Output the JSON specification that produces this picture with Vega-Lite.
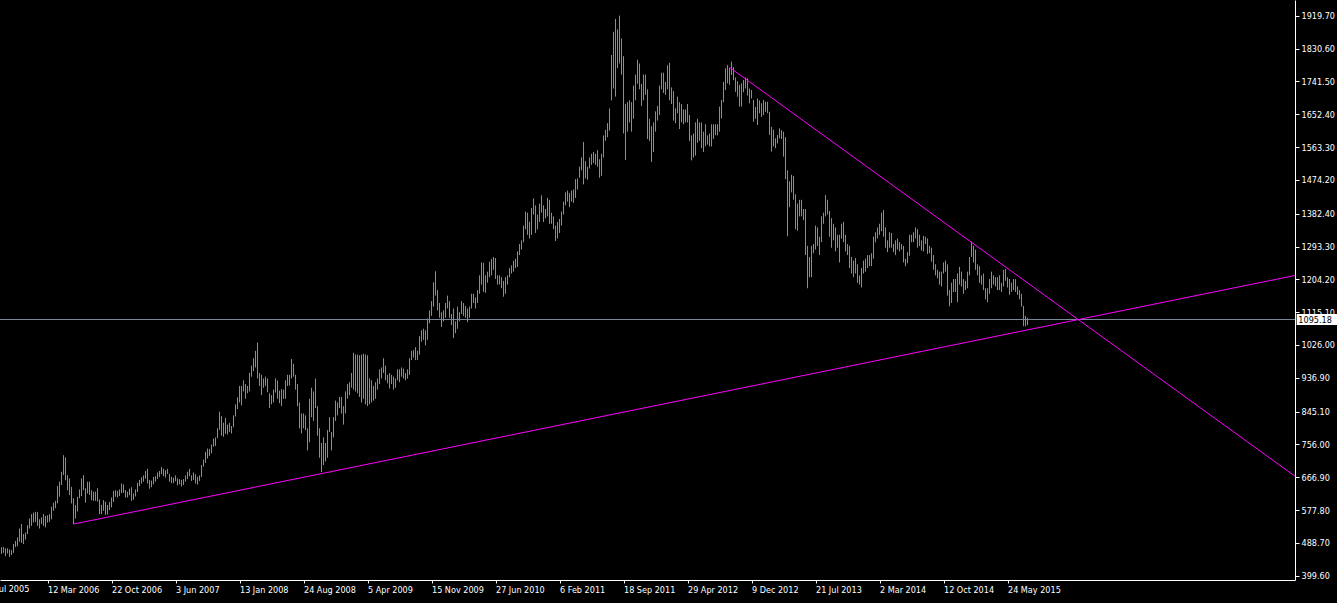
{
"$schema": "https://vega.github.io/schema/vega-lite/v6.json",
"width": 1295,
"height": 580,
"autosize": {"type": "none"},
"padding": {"left": 0, "top": 0, "right": 42, "bottom": 23},
"background": "#000000",
"config": {
  "view": {"stroke": null},
  "axis": {"grid": false, "labelOverlap": false, "labelFont": "DejaVu Sans Condensed, Liberation Sans", "labelFontSize": 9, "labelColor": "#ffffff", "domainColor": "#ffffff", "tickColor": "#ffffff", "domainWidth": 1, "tickWidth": 1}
},
"datasets": {
"bars": [
{"d":"2005-10-02","h":477,"l":459},{"d":"2005-10-09","h":478,"l":462},{"d":"2005-10-16","h":474,"l":453},{"d":"2005-10-23","h":474,"l":460},{"d":"2005-10-30","h":471,"l":451},{"d":"2005-11-06","h":469,"l":456},{"d":"2005-11-13","h":486,"l":462},{"d":"2005-11-20","h":494,"l":478},{"d":"2005-11-27","h":504,"l":480},{"d":"2005-12-04","h":528,"l":492},{"d":"2005-12-11","h":540,"l":489},{"d":"2005-12-18","h":513,"l":486},{"d":"2005-12-25","h":517,"l":498},
{"d":"2006-01-01","h":537,"l":513},{"d":"2006-01-08","h":555,"l":528},{"d":"2006-01-15","h":567,"l":535},{"d":"2006-01-22","h":571,"l":544},{"d":"2006-01-29","h":573,"l":546},{"d":"2006-02-05","h":573,"l":535},{"d":"2006-02-12","h":553,"l":528},{"d":"2006-02-19","h":558,"l":540},{"d":"2006-02-26","h":567,"l":535},{"d":"2006-03-05","h":562,"l":531},{"d":"2006-03-12","h":564,"l":544},{"d":"2006-03-19","h":567,"l":546},{"d":"2006-03-26","h":587,"l":553},{"d":"2006-04-02","h":598,"l":576},{"d":"2006-04-09","h":603,"l":583},{"d":"2006-04-16","h":643,"l":596},{"d":"2006-04-23","h":655,"l":614},{"d":"2006-04-30","h":682,"l":646},{"d":"2006-05-07","h":727,"l":673},{"d":"2006-05-14","h":721,"l":659},{"d":"2006-05-21","h":673,"l":632},{"d":"2006-05-28","h":664,"l":619},{"d":"2006-06-04","h":641,"l":596},{"d":"2006-06-11","h":610,"l":540},{"d":"2006-06-18","h":592,"l":555},{"d":"2006-06-25","h":614,"l":574},{"d":"2006-07-02","h":634,"l":610},{"d":"2006-07-09","h":664,"l":616},{"d":"2006-07-16","h":673,"l":632},{"d":"2006-07-23","h":637,"l":598},{"d":"2006-07-30","h":655,"l":623},{"d":"2006-08-06","h":655,"l":619},{"d":"2006-08-13","h":632,"l":605},{"d":"2006-08-20","h":628,"l":603},{"d":"2006-08-27","h":628,"l":603},{"d":"2006-09-03","h":637,"l":601},{"d":"2006-09-10","h":607,"l":567},{"d":"2006-09-17","h":592,"l":567},{"d":"2006-09-24","h":605,"l":576},{"d":"2006-10-01","h":601,"l":565},{"d":"2006-10-08","h":592,"l":566},{"d":"2006-10-15","h":600,"l":578},{"d":"2006-10-22","h":612,"l":585},{"d":"2006-10-29","h":630,"l":600},{"d":"2006-11-05","h":632,"l":614},{"d":"2006-11-12","h":630,"l":612},{"d":"2006-11-19","h":634,"l":616},{"d":"2006-11-26","h":650,"l":624},{"d":"2006-12-03","h":648,"l":625},{"d":"2006-12-10","h":632,"l":612},{"d":"2006-12-17","h":628,"l":612},{"d":"2006-12-24","h":636,"l":618},{"d":"2006-12-31","h":640,"l":603},
{"d":"2007-01-07","h":623,"l":606},{"d":"2007-01-14","h":634,"l":615},{"d":"2007-01-21","h":652,"l":627},{"d":"2007-01-28","h":660,"l":643},{"d":"2007-02-04","h":667,"l":650},{"d":"2007-02-11","h":672,"l":655},{"d":"2007-02-18","h":684,"l":663},{"d":"2007-02-25","h":690,"l":650},{"d":"2007-03-04","h":660,"l":636},{"d":"2007-03-11","h":658,"l":640},{"d":"2007-03-18","h":668,"l":648},{"d":"2007-03-25","h":670,"l":655},{"d":"2007-04-01","h":680,"l":662},{"d":"2007-04-08","h":684,"l":668},{"d":"2007-04-15","h":695,"l":675},{"d":"2007-04-22","h":690,"l":670},{"d":"2007-04-29","h":686,"l":666},{"d":"2007-05-06","h":690,"l":676},{"d":"2007-05-13","h":676,"l":655},{"d":"2007-05-20","h":668,"l":651},{"d":"2007-05-27","h":666,"l":651},{"d":"2007-06-03","h":672,"l":656},{"d":"2007-06-10","h":664,"l":645},{"d":"2007-06-17","h":662,"l":648},{"d":"2007-06-24","h":660,"l":642},{"d":"2007-07-01","h":662,"l":646},{"d":"2007-07-08","h":672,"l":655},{"d":"2007-07-15","h":682,"l":662},{"d":"2007-07-22","h":690,"l":670},{"d":"2007-07-29","h":672,"l":657},{"d":"2007-08-05","h":680,"l":660},{"d":"2007-08-12","h":675,"l":650},{"d":"2007-08-19","h":668,"l":647},{"d":"2007-08-26","h":672,"l":657},{"d":"2007-09-02","h":700,"l":668},{"d":"2007-09-09","h":715,"l":696},{"d":"2007-09-16","h":736,"l":706},{"d":"2007-09-23","h":745,"l":718},{"d":"2007-09-30","h":744,"l":725},{"d":"2007-10-07","h":756,"l":732},{"d":"2007-10-14","h":772,"l":750},{"d":"2007-10-21","h":775,"l":752},{"d":"2007-10-28","h":800,"l":773},{"d":"2007-11-04","h":845,"l":796},{"d":"2007-11-11","h":833,"l":780},{"d":"2007-11-18","h":815,"l":777},{"d":"2007-11-25","h":828,"l":785},{"d":"2007-12-02","h":810,"l":783},{"d":"2007-12-09","h":815,"l":790},{"d":"2007-12-16","h":806,"l":786},{"d":"2007-12-23","h":835,"l":803},{"d":"2007-12-30","h":865,"l":832},
{"d":"2008-01-06","h":884,"l":852},{"d":"2008-01-13","h":915,"l":870},{"d":"2008-01-20","h":915,"l":862},{"d":"2008-01-27","h":930,"l":900},{"d":"2008-02-03","h":920,"l":880},{"d":"2008-02-10","h":915,"l":895},{"d":"2008-02-17","h":950,"l":900},{"d":"2008-02-24","h":970,"l":940},{"d":"2008-03-02","h":990,"l":955},{"d":"2008-03-09","h":1010,"l":965},{"d":"2008-03-16","h":1033,"l":935},{"d":"2008-03-23","h":950,"l":915},{"d":"2008-03-30","h":945,"l":890},{"d":"2008-04-06","h":935,"l":910},{"d":"2008-04-13","h":940,"l":915},{"d":"2008-04-20","h":935,"l":898},{"d":"2008-04-27","h":895,"l":855},{"d":"2008-05-04","h":890,"l":865},{"d":"2008-05-11","h":905,"l":870},{"d":"2008-05-18","h":935,"l":897},{"d":"2008-05-25","h":930,"l":880},{"d":"2008-06-01","h":902,"l":868},{"d":"2008-06-08","h":906,"l":860},{"d":"2008-06-15","h":905,"l":880},{"d":"2008-06-22","h":930,"l":880},{"d":"2008-06-29","h":945,"l":915},{"d":"2008-07-06","h":945,"l":916},{"d":"2008-07-13","h":988,"l":935},{"d":"2008-07-20","h":975,"l":940},{"d":"2008-07-27","h":945,"l":905},{"d":"2008-08-03","h":920,"l":860},{"d":"2008-08-10","h":870,"l":800},{"d":"2008-08-17","h":840,"l":786},{"d":"2008-08-24","h":840,"l":800},{"d":"2008-08-31","h":835,"l":795},{"d":"2008-09-07","h":800,"l":740},{"d":"2008-09-14","h":880,"l":762},{"d":"2008-09-21","h":910,"l":830},{"d":"2008-09-28","h":900,"l":820},{"d":"2008-10-05","h":935,"l":855},{"d":"2008-10-12","h":860,"l":780},{"d":"2008-10-19","h":800,"l":720},{"d":"2008-10-26","h":760,"l":681},{"d":"2008-11-02","h":775,"l":700},{"d":"2008-11-09","h":760,"l":710},{"d":"2008-11-16","h":795,"l":720},{"d":"2008-11-23","h":830,"l":790},{"d":"2008-11-30","h":790,"l":740},{"d":"2008-12-07","h":830,"l":775},{"d":"2008-12-14","h":875,"l":820},{"d":"2008-12-21","h":870,"l":835},{"d":"2008-12-28","h":885,"l":855},
{"d":"2009-01-04","h":885,"l":840},{"d":"2009-01-11","h":860,"l":810},{"d":"2009-01-18","h":900,"l":840},{"d":"2009-01-25","h":920,"l":880},{"d":"2009-02-01","h":925,"l":890},{"d":"2009-02-08","h":950,"l":910},{"d":"2009-02-15","h":1005,"l":905},{"d":"2009-02-22","h":1000,"l":900},{"d":"2009-03-01","h":1000,"l":895},{"d":"2009-03-08","h":998,"l":885},{"d":"2009-03-15","h":1000,"l":870},{"d":"2009-03-22","h":1002,"l":880},{"d":"2009-03-29","h":1000,"l":865},{"d":"2009-04-05","h":998,"l":860},{"d":"2009-04-12","h":935,"l":865},{"d":"2009-04-19","h":930,"l":870},{"d":"2009-04-26","h":915,"l":875},{"d":"2009-05-03","h":925,"l":880},{"d":"2009-05-10","h":935,"l":905},{"d":"2009-05-17","h":960,"l":920},{"d":"2009-05-24","h":965,"l":935},{"d":"2009-05-31","h":990,"l":950},{"d":"2009-06-07","h":970,"l":930},{"d":"2009-06-14","h":945,"l":922},{"d":"2009-06-21","h":950,"l":908},{"d":"2009-06-28","h":945,"l":920},{"d":"2009-07-05","h":940,"l":905},{"d":"2009-07-12","h":935,"l":910},{"d":"2009-07-19","h":960,"l":930},{"d":"2009-07-26","h":960,"l":925},{"d":"2009-08-02","h":965,"l":940},{"d":"2009-08-09","h":962,"l":935},{"d":"2009-08-16","h":950,"l":930},{"d":"2009-08-23","h":960,"l":935},{"d":"2009-08-30","h":990,"l":945},{"d":"2009-09-06","h":1010,"l":985},{"d":"2009-09-13","h":1012,"l":992},{"d":"2009-09-20","h":1020,"l":985},{"d":"2009-09-27","h":1010,"l":985},{"d":"2009-10-04","h":1050,"l":1000},{"d":"2009-10-11","h":1066,"l":1035},{"d":"2009-10-18","h":1070,"l":1040},{"d":"2009-10-25","h":1066,"l":1025},{"d":"2009-11-01","h":1098,"l":1040},{"d":"2009-11-08","h":1120,"l":1085},{"d":"2009-11-15","h":1145,"l":1105},{"d":"2009-11-22","h":1196,"l":1130},{"d":"2009-11-29","h":1226,"l":1160},{"d":"2009-12-06","h":1175,"l":1120},{"d":"2009-12-13","h":1140,"l":1100},{"d":"2009-12-20","h":1115,"l":1075},{"d":"2009-12-27","h":1120,"l":1090},
{"d":"2010-01-03","h":1140,"l":1100},{"d":"2010-01-10","h":1160,"l":1125},{"d":"2010-01-17","h":1145,"l":1100},{"d":"2010-01-24","h":1110,"l":1080},{"d":"2010-01-31","h":1125,"l":1045},{"d":"2010-02-07","h":1090,"l":1058},{"d":"2010-02-14","h":1130,"l":1070},{"d":"2010-02-21","h":1115,"l":1090},{"d":"2010-02-28","h":1145,"l":1110},{"d":"2010-03-07","h":1140,"l":1105},{"d":"2010-03-14","h":1132,"l":1100},{"d":"2010-03-21","h":1125,"l":1088},{"d":"2010-03-28","h":1130,"l":1100},{"d":"2010-04-04","h":1165,"l":1125},{"d":"2010-04-11","h":1165,"l":1140},{"d":"2010-04-18","h":1155,"l":1125},{"d":"2010-04-25","h":1175,"l":1140},{"d":"2010-05-02","h":1215,"l":1165},{"d":"2010-05-09","h":1250,"l":1190},{"d":"2010-05-16","h":1249,"l":1170},{"d":"2010-05-23","h":1215,"l":1168},{"d":"2010-05-30","h":1225,"l":1195},{"d":"2010-06-06","h":1252,"l":1210},{"d":"2010-06-13","h":1260,"l":1215},{"d":"2010-06-20","h":1265,"l":1230},{"d":"2010-06-27","h":1262,"l":1205},{"d":"2010-07-04","h":1215,"l":1190},{"d":"2010-07-11","h":1215,"l":1190},{"d":"2010-07-18","h":1210,"l":1180},{"d":"2010-07-25","h":1200,"l":1157},{"d":"2010-08-01","h":1210,"l":1165},{"d":"2010-08-08","h":1215,"l":1190},{"d":"2010-08-15","h":1235,"l":1210},{"d":"2010-08-22","h":1242,"l":1220},{"d":"2010-08-29","h":1255,"l":1225},{"d":"2010-09-05","h":1260,"l":1235},{"d":"2010-09-12","h":1280,"l":1238},{"d":"2010-09-19","h":1300,"l":1270},{"d":"2010-09-26","h":1310,"l":1285},{"d":"2010-10-03","h":1350,"l":1305},{"d":"2010-10-10","h":1388,"l":1340},{"d":"2010-10-17","h":1385,"l":1325},{"d":"2010-10-24","h":1360,"l":1315},{"d":"2010-10-31","h":1398,"l":1325},{"d":"2010-11-07","h":1424,"l":1380},{"d":"2010-11-14","h":1405,"l":1330},{"d":"2010-11-21","h":1380,"l":1340},{"d":"2010-11-28","h":1410,"l":1360},{"d":"2010-12-05","h":1432,"l":1385},{"d":"2010-12-12","h":1405,"l":1360},{"d":"2010-12-19","h":1395,"l":1370},{"d":"2010-12-26","h":1425,"l":1375},
{"d":"2011-01-02","h":1420,"l":1355},{"d":"2011-01-09","h":1385,"l":1355},{"d":"2011-01-16","h":1375,"l":1340},{"d":"2011-01-23","h":1350,"l":1308},{"d":"2011-01-30","h":1360,"l":1315},{"d":"2011-02-06","h":1368,"l":1330},{"d":"2011-02-13","h":1388,"l":1350},{"d":"2011-02-20","h":1415,"l":1380},{"d":"2011-02-27","h":1440,"l":1405},{"d":"2011-03-06","h":1445,"l":1415},{"d":"2011-03-13","h":1438,"l":1400},{"d":"2011-03-20","h":1445,"l":1415},{"d":"2011-03-27","h":1448,"l":1412},{"d":"2011-04-03","h":1476,"l":1425},{"d":"2011-04-10","h":1478,"l":1448},{"d":"2011-04-17","h":1510,"l":1480},{"d":"2011-04-24","h":1535,"l":1500},{"d":"2011-05-01","h":1577,"l":1462},{"d":"2011-05-08","h":1525,"l":1478},{"d":"2011-05-15","h":1510,"l":1475},{"d":"2011-05-22","h":1535,"l":1505},{"d":"2011-05-29","h":1545,"l":1515},{"d":"2011-06-05","h":1550,"l":1520},{"d":"2011-06-12","h":1545,"l":1515},{"d":"2011-06-19","h":1555,"l":1510},{"d":"2011-06-26","h":1530,"l":1480},{"d":"2011-07-03","h":1545,"l":1485},{"d":"2011-07-10","h":1595,"l":1535},{"d":"2011-07-17","h":1610,"l":1580},{"d":"2011-07-24","h":1628,"l":1590},{"d":"2011-07-31","h":1668,"l":1608},{"d":"2011-08-07","h":1813,"l":1690},{"d":"2011-08-14","h":1876,"l":1722},{"d":"2011-08-21","h":1911,"l":1700},{"d":"2011-08-28","h":1883,"l":1777},{"d":"2011-09-04","h":1920,"l":1790},{"d":"2011-09-11","h":1858,"l":1760},{"d":"2011-09-18","h":1810,"l":1600},{"d":"2011-09-25","h":1680,"l":1528},{"d":"2011-10-02","h":1685,"l":1605},{"d":"2011-10-09","h":1690,"l":1630},{"d":"2011-10-16","h":1685,"l":1605},{"d":"2011-10-23","h":1730,"l":1640},{"d":"2011-10-30","h":1760,"l":1690},{"d":"2011-11-06","h":1800,"l":1735},{"d":"2011-11-13","h":1790,"l":1720},{"d":"2011-11-20","h":1735,"l":1675},{"d":"2011-11-27","h":1760,"l":1690},{"d":"2011-12-04","h":1760,"l":1705},{"d":"2011-12-11","h":1720,"l":1585},{"d":"2011-12-18","h":1640,"l":1580},{"d":"2011-12-25","h":1620,"l":1523},
{"d":"2012-01-01","h":1630,"l":1550},{"d":"2012-01-08","h":1660,"l":1605},{"d":"2012-01-15","h":1675,"l":1635},{"d":"2012-01-22","h":1730,"l":1650},{"d":"2012-01-29","h":1765,"l":1720},{"d":"2012-02-05","h":1765,"l":1710},{"d":"2012-02-12","h":1740,"l":1705},{"d":"2012-02-19","h":1785,"l":1720},{"d":"2012-02-26","h":1792,"l":1690},{"d":"2012-03-04","h":1725,"l":1680},{"d":"2012-03-11","h":1715,"l":1635},{"d":"2012-03-18","h":1668,"l":1628},{"d":"2012-03-25","h":1700,"l":1655},{"d":"2012-04-01","h":1685,"l":1612},{"d":"2012-04-08","h":1680,"l":1630},{"d":"2012-04-15","h":1665,"l":1625},{"d":"2012-04-22","h":1665,"l":1630},{"d":"2012-04-29","h":1680,"l":1630},{"d":"2012-05-06","h":1650,"l":1580},{"d":"2012-05-13","h":1595,"l":1527},{"d":"2012-05-20","h":1600,"l":1535},{"d":"2012-05-27","h":1630,"l":1540},{"d":"2012-06-03","h":1640,"l":1575},{"d":"2012-06-10","h":1630,"l":1580},{"d":"2012-06-17","h":1630,"l":1560},{"d":"2012-06-24","h":1605,"l":1550},{"d":"2012-07-01","h":1625,"l":1565},{"d":"2012-07-08","h":1595,"l":1570},{"d":"2012-07-15","h":1600,"l":1565},{"d":"2012-07-22","h":1625,"l":1565},{"d":"2012-07-29","h":1625,"l":1585},{"d":"2012-08-05","h":1625,"l":1595},{"d":"2012-08-12","h":1625,"l":1595},{"d":"2012-08-19","h":1673,"l":1605},{"d":"2012-08-26","h":1691,"l":1641},{"d":"2012-09-02","h":1740,"l":1685},{"d":"2012-09-09","h":1777,"l":1718},{"d":"2012-09-16","h":1786,"l":1736},{"d":"2012-09-23","h":1778,"l":1732},{"d":"2012-09-30","h":1795,"l":1759},{"d":"2012-10-07","h":1780,"l":1745},{"d":"2012-10-14","h":1752,"l":1713},{"d":"2012-10-21","h":1742,"l":1700},{"d":"2012-10-28","h":1732,"l":1673},{"d":"2012-11-04","h":1736,"l":1673},{"d":"2012-11-11","h":1745,"l":1712},{"d":"2012-11-18","h":1752,"l":1722},{"d":"2012-11-25","h":1750,"l":1703},{"d":"2012-12-02","h":1722,"l":1682},{"d":"2012-12-09","h":1718,"l":1695},{"d":"2012-12-16","h":1691,"l":1632},{"d":"2012-12-23","h":1672,"l":1640},{"d":"2012-12-30","h":1695,"l":1623},
{"d":"2013-01-06","h":1690,"l":1655},{"d":"2013-01-13","h":1682,"l":1645},{"d":"2013-01-20","h":1691,"l":1650},{"d":"2013-01-27","h":1686,"l":1659},{"d":"2013-02-03","h":1686,"l":1655},{"d":"2013-02-10","h":1659,"l":1596},{"d":"2013-02-17","h":1618,"l":1551},{"d":"2013-02-24","h":1610,"l":1565},{"d":"2013-03-03","h":1587,"l":1560},{"d":"2013-03-10","h":1596,"l":1573},{"d":"2013-03-17","h":1614,"l":1587},{"d":"2013-03-24","h":1609,"l":1585},{"d":"2013-03-31","h":1605,"l":1537},{"d":"2013-04-07","h":1590,"l":1476},{"d":"2013-04-14","h":1500,"l":1321},{"d":"2013-04-21","h":1470,"l":1400},{"d":"2013-04-28","h":1488,"l":1440},{"d":"2013-05-05","h":1485,"l":1420},{"d":"2013-05-12","h":1435,"l":1340},{"d":"2013-05-19","h":1410,"l":1336},{"d":"2013-05-26","h":1420,"l":1375},{"d":"2013-06-02","h":1420,"l":1375},{"d":"2013-06-09","h":1395,"l":1365},{"d":"2013-06-16","h":1395,"l":1270},{"d":"2013-06-23","h":1295,"l":1180},{"d":"2013-06-30","h":1265,"l":1210},{"d":"2013-07-07","h":1295,"l":1210},{"d":"2013-07-14","h":1300,"l":1275},{"d":"2013-07-21","h":1350,"l":1285},{"d":"2013-07-28","h":1345,"l":1295},{"d":"2013-08-04","h":1320,"l":1270},{"d":"2013-08-11","h":1375,"l":1305},{"d":"2013-08-18","h":1385,"l":1355},{"d":"2013-08-25","h":1433,"l":1375},{"d":"2013-09-01","h":1420,"l":1380},{"d":"2013-09-08","h":1390,"l":1320},{"d":"2013-09-15","h":1370,"l":1290},{"d":"2013-09-22","h":1355,"l":1310},{"d":"2013-09-29","h":1345,"l":1280},{"d":"2013-10-06","h":1325,"l":1290},{"d":"2013-10-13","h":1325,"l":1250},{"d":"2013-10-20","h":1355,"l":1315},{"d":"2013-10-27","h":1360,"l":1305},{"d":"2013-11-03","h":1325,"l":1280},{"d":"2013-11-10","h":1300,"l":1270},{"d":"2013-11-17","h":1295,"l":1235},{"d":"2013-11-24","h":1265,"l":1220},{"d":"2013-12-01","h":1255,"l":1210},{"d":"2013-12-08","h":1262,"l":1220},{"d":"2013-12-15","h":1245,"l":1195},{"d":"2013-12-22","h":1215,"l":1190},{"d":"2013-12-29","h":1235,"l":1182},
{"d":"2014-01-05","h":1255,"l":1220},{"d":"2014-01-12","h":1260,"l":1225},{"d":"2014-01-19","h":1270,"l":1235},{"d":"2014-01-26","h":1270,"l":1240},{"d":"2014-02-02","h":1275,"l":1240},{"d":"2014-02-09","h":1320,"l":1260},{"d":"2014-02-16","h":1332,"l":1305},{"d":"2014-02-23","h":1345,"l":1315},{"d":"2014-03-02","h":1355,"l":1325},{"d":"2014-03-09","h":1385,"l":1335},{"d":"2014-03-16","h":1392,"l":1320},{"d":"2014-03-23","h":1345,"l":1290},{"d":"2014-03-30","h":1310,"l":1278},{"d":"2014-04-06","h":1332,"l":1290},{"d":"2014-04-13","h":1330,"l":1290},{"d":"2014-04-20","h":1300,"l":1278},{"d":"2014-04-27","h":1310,"l":1270},{"d":"2014-05-04","h":1315,"l":1285},{"d":"2014-05-11","h":1305,"l":1280},{"d":"2014-05-18","h":1300,"l":1285},{"d":"2014-05-25","h":1295,"l":1250},{"d":"2014-06-01","h":1260,"l":1240},{"d":"2014-06-08","h":1278,"l":1248},{"d":"2014-06-15","h":1325,"l":1268},{"d":"2014-06-22","h":1325,"l":1305},{"d":"2014-06-29","h":1332,"l":1305},{"d":"2014-07-06","h":1345,"l":1315},{"d":"2014-07-13","h":1340,"l":1290},{"d":"2014-07-20","h":1325,"l":1295},{"d":"2014-07-27","h":1310,"l":1282},{"d":"2014-08-03","h":1322,"l":1280},{"d":"2014-08-10","h":1320,"l":1300},{"d":"2014-08-17","h":1315,"l":1273},{"d":"2014-08-24","h":1295,"l":1275},{"d":"2014-08-31","h":1290,"l":1252},{"d":"2014-09-07","h":1270,"l":1230},{"d":"2014-09-14","h":1245,"l":1215},{"d":"2014-09-21","h":1230,"l":1207},{"d":"2014-09-28","h":1225,"l":1190},{"d":"2014-10-05","h":1225,"l":1185},{"d":"2014-10-12","h":1250,"l":1220},{"d":"2014-10-19","h":1255,"l":1225},{"d":"2014-10-26","h":1245,"l":1160},{"d":"2014-11-02","h":1175,"l":1131},{"d":"2014-11-09","h":1195,"l":1140},{"d":"2014-11-16","h":1205,"l":1170},{"d":"2014-11-23","h":1205,"l":1170},{"d":"2014-11-30","h":1220,"l":1142},{"d":"2014-12-07","h":1238,"l":1190},{"d":"2014-12-14","h":1225,"l":1185},{"d":"2014-12-21","h":1205,"l":1165},{"d":"2014-12-28","h":1200,"l":1175},
{"d":"2015-01-04","h":1225,"l":1180},{"d":"2015-01-11","h":1265,"l":1215},{"d":"2015-01-18","h":1307,"l":1265},{"d":"2015-01-25","h":1295,"l":1250},{"d":"2015-02-01","h":1285,"l":1230},{"d":"2015-02-08","h":1245,"l":1215},{"d":"2015-02-15","h":1240,"l":1195},{"d":"2015-02-22","h":1215,"l":1190},{"d":"2015-03-01","h":1220,"l":1175},{"d":"2015-03-08","h":1180,"l":1150},{"d":"2015-03-15","h":1180,"l":1142},{"d":"2015-03-22","h":1205,"l":1165},{"d":"2015-03-29","h":1225,"l":1180},{"d":"2015-04-05","h":1215,"l":1190},{"d":"2015-04-12","h":1210,"l":1185},{"d":"2015-04-19","h":1210,"l":1175},{"d":"2015-04-26","h":1215,"l":1175},{"d":"2015-05-03","h":1195,"l":1170},{"d":"2015-05-10","h":1230,"l":1185},{"d":"2015-05-17","h":1232,"l":1200},{"d":"2015-05-24","h":1210,"l":1182},{"d":"2015-05-31","h":1205,"l":1162},{"d":"2015-06-07","h":1195,"l":1170},{"d":"2015-06-14","h":1205,"l":1175},{"d":"2015-06-21","h":1205,"l":1170},{"d":"2015-06-28","h":1185,"l":1162},{"d":"2015-07-05","h":1175,"l":1150},{"d":"2015-07-12","h":1165,"l":1130},{"d":"2015-07-19","h":1132,"l":1077},{"d":"2015-07-26","h":1105,"l":1077},{"d":"2015-08-02","h":1100,"l":1080}
],
"trend": [
{"s":"support","d":"2006-06-11","p":540},
{"s":"support","d":"2018-02-23T06:00:00Z","p":1214.7},
{"s":"resistance","d":"2012-09-23","p":1779.6},
{"s":"resistance","d":"2018-02-23T06:00:00Z","p":669.7}
],
"last": [{"d":"2018-03-01","d2":"2018-08-01","p":1095.18,"top":1110,"bottom":1080.3,"t":"1095.18","tx":"2018-03-07"}],
"cut": [{"d":"2005-07-31","p":374.6,"t":"31 Jul 2005"}]
},
"layer": [
{
  "data": {"name": "bars"},
  "mark": {"type": "rule", "color": "#32CD32", "strokeWidth": 1},
  "encoding": {
    "x": {"field": "d", "type": "temporal",
      "scale": {"type": "utc", "domain": [{"year": 2005, "month": 9, "date": 26, "hours": 18, "utc": true}, {"year": 2018, "month": 2, "date": 23, "hours": 6, "utc": true}]},
      "axis": {"orient": "bottom", "title": null, "format": "%-d %b %Y", "labelAlign": "left", "labelOffset": 0, "labelPadding": 2, "tickSize": 3, "tickCount": 60, "labelOverlap": false, "labelBound": false, "labelFlush": false,
        "values": [
          {"year": 2006, "month": 3, "date": 12, "utc": true},
          {"year": 2006, "month": 10, "date": 22, "utc": true},
          {"year": 2007, "month": 6, "date": 3, "utc": true},
          {"year": 2008, "month": 1, "date": 13, "utc": true},
          {"year": 2008, "month": 8, "date": 24, "utc": true},
          {"year": 2009, "month": 4, "date": 5, "utc": true},
          {"year": 2009, "month": 11, "date": 15, "utc": true},
          {"year": 2010, "month": 6, "date": 27, "utc": true},
          {"year": 2011, "month": 2, "date": 6, "utc": true},
          {"year": 2011, "month": 9, "date": 18, "utc": true},
          {"year": 2012, "month": 4, "date": 29, "utc": true},
          {"year": 2012, "month": 12, "date": 9, "utc": true},
          {"year": 2013, "month": 7, "date": 21, "utc": true},
          {"year": 2014, "month": 3, "date": 2, "utc": true},
          {"year": 2014, "month": 10, "date": 12, "utc": true},
          {"year": 2015, "month": 5, "date": 24, "utc": true}
        ]}},
    "y": {"field": "l", "type": "quantitative",
      "scale": {"domain": [388.2, 1962.3], "zero": false, "nice": false},
      "axis": {"orient": "right", "title": null, "format": ".2f", "tickSize": 4, "labelPadding": 2, "tickCount": 60, "labelOverlap": false, "labelBound": false, "labelFlush": false,
        "values": [399.6, 488.7, 577.8, 666.9, 756.0, 845.1, 936.9, 1026.0, 1115.1, 1204.2, 1293.3, 1382.4, 1474.2, 1563.3, 1652.4, 1741.5, 1830.6, 1919.7]}},
    "y2": {"field": "h"}
  }
},
{
  "data": {"name": "last"},
  "mark": {"type": "rule", "color": "#778899", "strokeWidth": 1},
  "encoding": {"y": {"field": "p", "type": "quantitative"}}
},
{
  "data": {"name": "trend"},
  "mark": {"type": "line", "color": "#FF00FF", "strokeWidth": 1},
  "encoding": {
    "x": {"field": "d", "type": "temporal"},
    "y": {"field": "p", "type": "quantitative"},
    "detail": {"field": "s"}
  }
},
{
  "data": {"name": "last"},
  "mark": {"type": "rect", "color": "#ffffff", "clip": false},
  "encoding": {
    "x": {"field": "d", "type": "temporal"},
    "x2": {"field": "d2"},
    "y": {"field": "top", "type": "quantitative"},
    "y2": {"field": "bottom"}
  }
},
{
  "data": {"name": "last"},
  "mark": {"type": "text", "color": "#000000", "align": "left", "baseline": "middle", "font": "DejaVu Sans Condensed, Liberation Sans", "fontSize": 9, "clip": false},
  "encoding": {
    "x": {"field": "tx", "type": "temporal"},
    "y": {"field": "p", "type": "quantitative"},
    "text": {"field": "t"}
  }
},
{
  "data": {"name": "cut"},
  "mark": {"type": "text", "color": "#ffffff", "align": "left", "baseline": "top", "font": "DejaVu Sans Condensed, Liberation Sans", "fontSize": 9, "clip": false},
  "encoding": {
    "x": {"field": "d", "type": "temporal"},
    "y": {"field": "p", "type": "quantitative"},
    "text": {"field": "t"}
  }
}
]
}
